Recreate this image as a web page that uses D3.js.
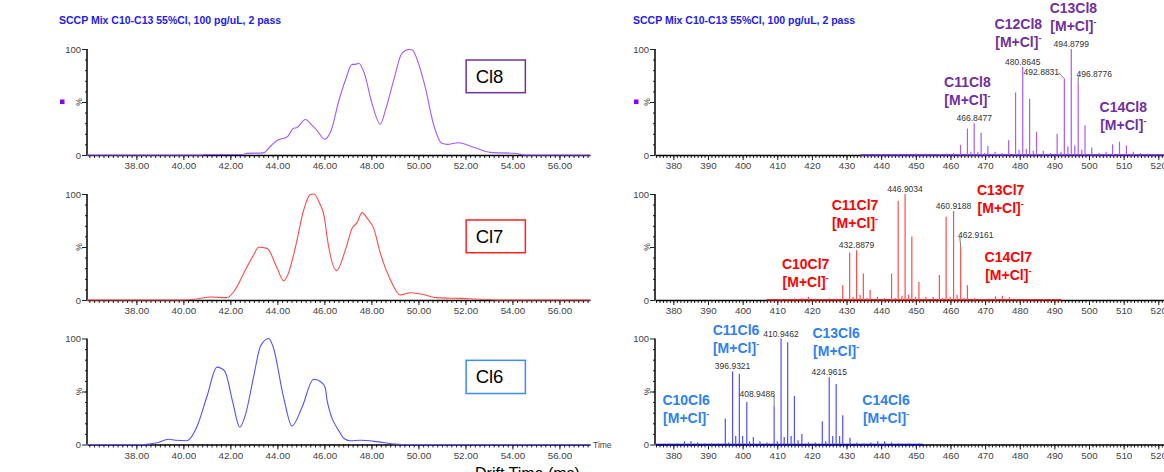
<!DOCTYPE html>
<html><head><meta charset="utf-8">
<script src="https://cdn.jsdelivr.net/npm/d3@7"></script>
<style>
body{margin:0;background:#fff;}
svg{display:block;font-family:"Liberation Sans",Arial,Helvetica,sans-serif;}
</style>
</head><body>
<svg id="chart" width="1164" height="472"></svg>
<script>
// ---------------- DATA ----------------
const titleText = "SCCP Mix C10-C13 55%Cl, 100 pg/uL, 2 pass";
const seriesNames = ["Cl8", "Cl7", "Cl6"];
const driftTickLabels = [38, 40, 42, 44, 46, 48, 50, 52, 54, 56];
const mzTickLabels = [380, 390, 400, 410, 420, 430, 440, 450, 460, 470, 480, 490, 500, 510, 520];
const yTickLabels = [0, 100];
const driftAxisTitle = "Drift Time (ms)";

// drift-time traces: [ms, %]
const cl8Drift = [[35.9,0],[40.8,0],[40.9,0.4],[42.5,0.5],[42.7,1.5],[43.4,2],[43.7,8],[44.0,14],[44.27,15.7],[44.44,17.5],[44.67,25],[44.84,26],[45.19,33.5],[45.48,28],[45.69,23],[46.02,14.8],[46.3,24],[46.6,50],[46.9,71],[47.18,85.5],[47.32,85.5],[47.46,86.5],[47.7,77],[48.02,49],[48.38,29],[48.6,42.5],[48.95,70.7],[49.3,96],[49.59,99.5],[49.75,99],[49.87,94.3],[50.3,63],[50.65,28.3],[51.0,11],[51.22,10],[51.71,11.6],[52.35,7.3],[53.06,2.5],[54.05,1.6],[54.6,0],[57.3,0]];
const cl7Drift = [[35.9,0],[39.9,0],[40.6,1],[41.15,2.8],[41.86,2.2],[42.14,7.8],[42.71,31.4],[42.99,42.5],[43.2,49.7],[43.56,48.7],[43.99,29.9],[44.27,18],[44.44,23.6],[44.77,50],[45.12,85],[45.38,99],[45.55,100],[45.8,91],[46.0,78],[46.11,60],[46.52,27.7],[46.89,47],[47.18,67.6],[47.39,73],[47.6,82.4],[47.82,77],[48.1,67.6],[48.38,44],[48.81,18.9],[49.23,4.7],[49.66,6.9],[50.1,5.7],[50.79,2.2],[51.79,1.5],[52.9,0.5],[53.5,0],[57.3,0]];
const cl6Drift = [[35.9,0],[38.3,0],[38.88,1.7],[39.37,4.9],[39.66,4],[40.15,3.6],[40.58,17],[41.0,45],[41.43,73],[41.6,72],[41.79,68],[42.11,39],[42.4,16.3],[42.64,28],[42.99,64],[43.28,92.7],[43.63,100],[43.81,92.7],[44.27,43.8],[44.62,17.5],[45.05,35.2],[45.54,61.5],[45.83,59.5],[46.04,53.3],[46.11,42],[46.68,10.6],[46.82,5.9],[47.1,3.6],[47.53,4],[48.24,2.7],[48.95,0.5],[49.3,0],[57.3,0]];

// mass spectra sticks: [m/z, %]
const cl8Peaks = [[440,1],[445,1],[450,1.5],[452.9,1.5],[456.9,1],[458.9,1.5],[460.9,2],[462.9,9.4],[464.9,25],[465.9,3],[466.85,30],[467.9,3],[468.85,21],[469.9,2],[470.8,8.5],[472.9,3],[474.9,2],[476.8,14],[478.8,59],[479.8,5],[480.86,83],[481.9,6],[482.85,53],[483.9,4],[484.85,22],[486.8,4],[488.9,2],[490.8,20],[491.9,3],[492.88,72],[493.9,8],[494.88,100],[495.9,9],[496.88,66],[497.9,5],[498.85,28],[500.8,7],[502.9,2],[504.9,3],[506.8,10],[508.8,12.6],[510.8,9],[512.8,3],[514.9,2],[517,1.5],[519,1]];
const cl7Peaks = [[407,0.5],[411,1],[413,1],[415,1.5],[417.1,2],[419,3],[421,1.5],[423,1],[425,1.5],[427,1.5],[428.9,14],[430.9,44.7],[431.9,3],[432.9,47],[433.9,5],[434.85,25],[435.9,2],[436.8,9.4],[438.9,3],[440.9,2],[443.0,25],[444.0,2],[444.9,93.7],[446.0,4],[446.9,100],[447.9,5],[448.85,60],[449.9,3],[450.9,17],[452.9,3],[455,3],[456.8,23.6],[457.8,2],[458.75,78.6],[459.9,3],[460.9,84],[461.9,5],[462.95,50],[463.9,2],[464.9,14],[467,2],[469,1],[471,1.5],[473,3.5],[475,4],[477,2.5],[479,1],[483,1],[487,1],[489,1],[491,0.5]];
const cl6Peaks = [[379,1],[381,1],[383.2,3],[385.1,3],[387,2],[389,1],[391,1],[393,1],[395,24.5],[396,2],[397.1,69],[398,8],[399.05,66.7],[400,8],[401.2,40],[402,3],[403.1,7],[405,3],[407,2],[409.1,36],[410,3],[411.1,100],[412,7],[413.0,96.5],[414,8],[414.95,45.7],[416,4],[417.1,10],[419,2],[421,2],[423,22],[424,3],[425.0,63.5],[426,8],[427.0,57],[428,8],[428.9,27.6],[431,6.4],[433,2],[435,1],[437,2],[439,3],[441,3],[443,2],[445,1],[448,1],[451,1]];
const baselineRanges = [[434, 521.6], [407, 492], [375, 452]];

// peak m/z labels: [m/z, text, dx, dy]  (dx,dy only for leader-line labels)
const cl8MzLabels = [[466.85,"466.8477",0,0],[480.86,"480.8645",0,0],[492.88,"492.8831",-23,-2],[494.88,"494.8799",0,0],[496.88,"496.8776",16,-6]];
const cl7MzLabels = [[432.9,"432.8879",0,0],[446.9,"446.9034",0,0],[460.9,"460.9188",0,0],[462.95,"462.9161",15,-7]];
const cl6MzLabels = [[397.1,"396.9321",0,0],[409.1,"408.9488",-17,-7],[411.1,"410.9462",0,0],[425.0,"424.9615",0,0]];

// compound group labels placed in data coordinates: [m/z, %, line1]
const cl8Groups = [[464.9,69.2,"C11Cl8"],[479.6,123.6,"C12Cl8"],[495.5,138.4,"C13Cl8"],[509.9,45.6,"C14Cl8"]];
const cl7Groups = [[432.45,89.6,"C11Cl7"],[418.2,33.7,"C10Cl7"],[474.5,103.8,"C13Cl7"],[476.7,40.3,"C14Cl7"]];
const cl6Groups = [[398.1,107.6,"C11Cl6"],[427.0,105.4,"C13Cl6"],[383.7,41.9,"C10Cl6"],[441.4,41.9,"C14Cl6"]];

// ---------------- STYLE / LAYOUT ----------------
const traceColors = ["#a259ff", "#ff4a4a", "#5252ff"];
const stickColors = ["#a45cff", "#ff4d4d", "#4f4fff"];
const baseColors = ["#6a1fd0", "#d40000", "#0000c8"];
const labelColors = ["#7030a0", "#ff0000", "#2f80f0"];
const boxColors = ["#7030a0", "#ff2020", "#3a8bff"];
const panelY0 = [155, 300, 444.5];
const panelH = 106;

const svg = d3.select("#chart");
const driftData = [cl8Drift, cl7Drift, cl6Drift];
const peakData = [cl8Peaks, cl7Peaks, cl6Peaks];
const mzLabelData = [cl8MzLabels, cl7MzLabels, cl6MzLabels];
const groupData = [cl8Groups, cl7Groups, cl6Groups];

const xDrift = d3.scaleLinear().domain([35.9, 57.3]).range([87, 590]);
const xMz = d3.scaleLinear().domain([374.7, 521.65]).range([655, 1164]);

function yScaleFor(i) {
  return d3.scaleLinear().domain([0, 100]).range([panelY0[i], panelY0[i] - panelH]);
}

function styleAxis(g, fs) {
  g.selectAll(".domain").attr("stroke", "#000").attr("stroke-width", 1.5);
  g.selectAll(".tick line").attr("stroke", "#222").attr("stroke-width", 1);
  g.selectAll("text").attr("fill", "#444").attr("font-size", fs)
    .attr("font-family", "'Liberation Sans',Arial,sans-serif");
}

function drawAxes(x, y, y0, majors, minorVals, fmt, yAxisX) {
  const gm = svg.append("g").attr("transform", `translate(0,${y0})`)
    .call(d3.axisBottom(x).tickValues(minorVals).tickSize(3).tickSizeOuter(0).tickFormat(""));
  gm.select(".domain").remove();
  gm.selectAll(".tick line").attr("stroke", "#222");
  const gx = svg.append("g").attr("transform", `translate(0,${y0})`)
    .call(d3.axisBottom(x).tickValues(majors).tickSize(5).tickSizeOuter(0).tickFormat(fmt).tickPadding(2.5));
  styleAxis(gx, "9.8px");
  // y axis
  const gym = svg.append("g").attr("transform", `translate(${yAxisX},0)`)
    .call(d3.axisLeft(y).tickValues(d3.range(10, 100, 10)).tickSize(2).tickFormat(""));
  gym.select(".domain").remove();
  gym.selectAll(".tick line").attr("stroke", "#222");
  const gy = svg.append("g").attr("transform", `translate(${yAxisX},0)`)
    .call(d3.axisLeft(y).tickValues([...yTickLabels, 50]).tickSize(5).tickSizeOuter(0)
      .tickFormat(d => d === 50 ? "" : d).tickPadding(1));
  styleAxis(gy, "9.5px");
  gy.select(".domain").attr("d", `M0,${y(100)}V${y(0)}`);
  svg.append("text").attr("transform", `translate(${yAxisX - 8},${y(50)}) rotate(-90)`)
    .attr("text-anchor", "middle").attr("dominant-baseline", "central")
    .attr("font-size", "8.5px").attr("fill", "#444").text("%");
}

// titles
[59, 633].forEach(tx => {
  svg.append("text").attr("x", tx).attr("y", 23.5).attr("font-size", "10.5px")
    .attr("font-weight", "bold").attr("fill", "#2020ee").text(titleText);
  svg.append("rect").attr("x", tx + 1).attr("y", 99.5).attr("width", 4.5).attr("height", 4.5)
    .attr("fill", "#8a00ff");
});

const driftMinor = d3.range(36, 57.3, 0.2);
const mzMinor = d3.range(375, 521.7, 1);

seriesNames.forEach((name, i) => {
  const y = yScaleFor(i);
  // ---- left: drift time ----
  drawAxes(xDrift, y, panelY0[i], driftTickLabels, driftMinor, d => d3.format(".2f")(d), 87);
  const line = d3.line().x(d => xDrift(d[0])).y(d => y(d[1])).curve(d3.curveMonotoneX);
  svg.append("path").datum(driftData[i]).attr("d", line).attr("fill", "none")
    .attr("stroke", traceColors[i]).attr("stroke-width", 1.1);
  // label box
  const bx0 = xDrift(52.03), bx1 = xDrift(54.55);
  const boxTop = [89.6, 75.5, 79.4][i], boxBot = [58.8, 44.6, 48.1][i];
  svg.append("rect").attr("x", bx0).attr("y", y(boxTop)).attr("width", bx1 - bx0)
    .attr("height", y(boxBot) - y(boxTop)).attr("fill", "#fff")
    .attr("stroke", boxColors[i]).attr("stroke-width", 1.5);
  svg.append("text").attr("x", bx0 + 9.5).attr("y", (y(boxTop) + y(boxBot)) / 2 + 6.5)
    .attr("font-size", "18.5px").attr("fill", "#000").text(name);

  // ---- right: mass spectrum ----
  drawAxes(xMz, y, panelY0[i], mzTickLabels, mzMinor, d => d, 655);
  const br = baselineRanges[i];
  svg.append("line").attr("x1", xMz(br[0])).attr("x2", xMz(br[1]))
    .attr("y1", y(0)).attr("y2", y(0)).attr("stroke", baseColors[i]).attr("stroke-width", 1.3);
  svg.append("g").selectAll("line").data(peakData[i]).join("line")
    .attr("x1", d => xMz(d[0])).attr("x2", d => xMz(d[0]))
    .attr("y1", y(0)).attr("y2", d => y(d[1]))
    .attr("stroke", stickColors[i]).attr("stroke-width", 1.2);
  // m/z labels
  mzLabelData[i].forEach(([mz, txt, dx, dy]) => {
    const pk = peakData[i].find(p => Math.abs(p[0] - mz) < 0.3);
    const px = xMz(mz), py = y(pk[1]);
    const tx = px + dx, ty = py - 2 + dy;
    svg.append("text").attr("x", tx).attr("y", ty).attr("text-anchor", "middle")
      .attr("font-size", "8.5px").attr("fill", "#333").text(txt);
    if (dx !== 0) {
      const ex = dx < 0 ? tx + 17 : tx - 16;
      svg.append("line").attr("x1", ex).attr("y1", ty - 2).attr("x2", px).attr("y2", py)
        .attr("stroke", "#555").attr("stroke-width", 0.8);
    }
  });
  // compound groups
  groupData[i].forEach(([mz, pct, txt]) => {
    const gx = xMz(mz), gy = y(pct);
    svg.append("text").attr("x", gx).attr("y", gy + 5).attr("text-anchor", "middle")
      .attr("font-size", "14px").attr("font-weight", "bold").attr("fill", labelColors[i]).text(txt);
    const t2 = svg.append("text").attr("x", gx).attr("y", gy + 23).attr("text-anchor", "middle")
      .attr("font-size", "14px").attr("font-weight", "bold").attr("fill", labelColors[i]);
    t2.append("tspan").text("[M+Cl]");
    t2.append("tspan").attr("dy", -6).attr("font-size", "9px").text("-");
  });
});

// "Time" label & axis title
svg.append("text").attr("x", 593).attr("y", panelY0[2] + 3.5).attr("font-size", "8.5px")
  .attr("fill", "#444").text("Time");
svg.append("text").attr("x", 475).attr("y", 478.5).attr("font-size", "16px")
  .attr("fill", "#000").text(driftAxisTitle);
</script>
</body></html>
